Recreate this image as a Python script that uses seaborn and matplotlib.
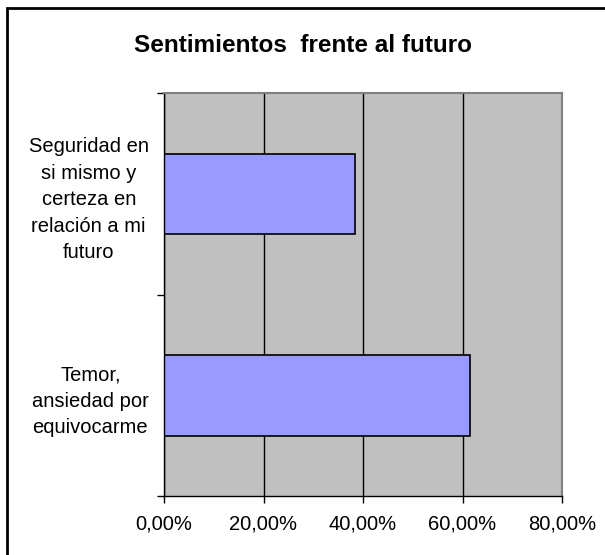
import matplotlib
matplotlib.use("Agg")
import matplotlib.pyplot as plt
import seaborn as sns
import pandas as pd
from matplotlib.patches import Rectangle

categories = ["Seguridad en\nsi mismo y\ncerteza en\nrelación a mi\nfuturo",
              "Temor,\nansiedad por\nequivocarme"]
values = [38.46, 61.54]
xticks = [0, 20, 40, 60, 80]
xtick_labels = ["0,00%", "20,00%", "40,00%", "60,00%", "80,00%"]
title = "Sentimientos  frente al futuro"

sns.set_style("white")
plt.rcParams['font.family'] = ['Liberation Sans', 'DejaVu Sans']
plt.rcParams['text.color'] = 'black'
plt.rcParams['xtick.color'] = 'black'
plt.rcParams['ytick.color'] = 'black'

df = pd.DataFrame({"cat": categories, "val": values})

fig = plt.figure(figsize=(6.05, 5.55), dpi=100)
ax = fig.add_axes([164/605, 1-496/555, (562-164)/605, (496-93.5)/555])
ax.set_facecolor("#C0C0C0")
ax.set_axisbelow(True)

sns.barplot(data=df, y="cat", x="val", orient="h", ax=ax, color="#9999FF",
            saturation=1, width=0.4, edgecolor="black", linewidth=1.2)

ax.set_xlim(0, 80)
ax.set_ylim(1.5, -0.5)
ax.set_xticks(xticks)
ax.set_xticklabels(xtick_labels, fontsize=14.5, color="black")
ax.xaxis.grid(True, color="black", linewidth=1)
ax.yaxis.grid(False)
ax.set_xlabel("")
ax.set_ylabel("")

ax.set_yticks([0, 1])
ax.set_yticklabels(categories, fontsize=14.5, linespacing=1.5, color="black")
for lbl in ax.get_yticklabels():
    lbl.set_multialignment("center")
ax.set_yticks([-0.5, 0.5, 1.5], minor=True)
ax.tick_params(axis="y", which="major", length=0, pad=11)
ax.tick_params(axis="y", which="minor", length=5, width=1, color="black", direction="out", left=True)
ax.tick_params(axis="x", length=5, width=1, color="black", direction="out", bottom=True, pad=8)

for s in ["top", "right"]:
    ax.spines[s].set_color("#808080")
    ax.spines[s].set_linewidth(1.5)
for s in ["left", "bottom"]:
    ax.spines[s].set_color("black")
    ax.spines[s].set_linewidth(1)

fig.text(0.5, 1-45/555, title, ha="center", va="center", fontsize=17.5,
         fontweight="bold", color="black")

fig.patches.append(Rectangle((7/605, -0.1), 1.2, 1-8/555+0.1, transform=fig.transFigure,
                             fill=False, edgecolor="black", linewidth=2, zorder=10))

fig.savefig("out.png", dpi=100)
